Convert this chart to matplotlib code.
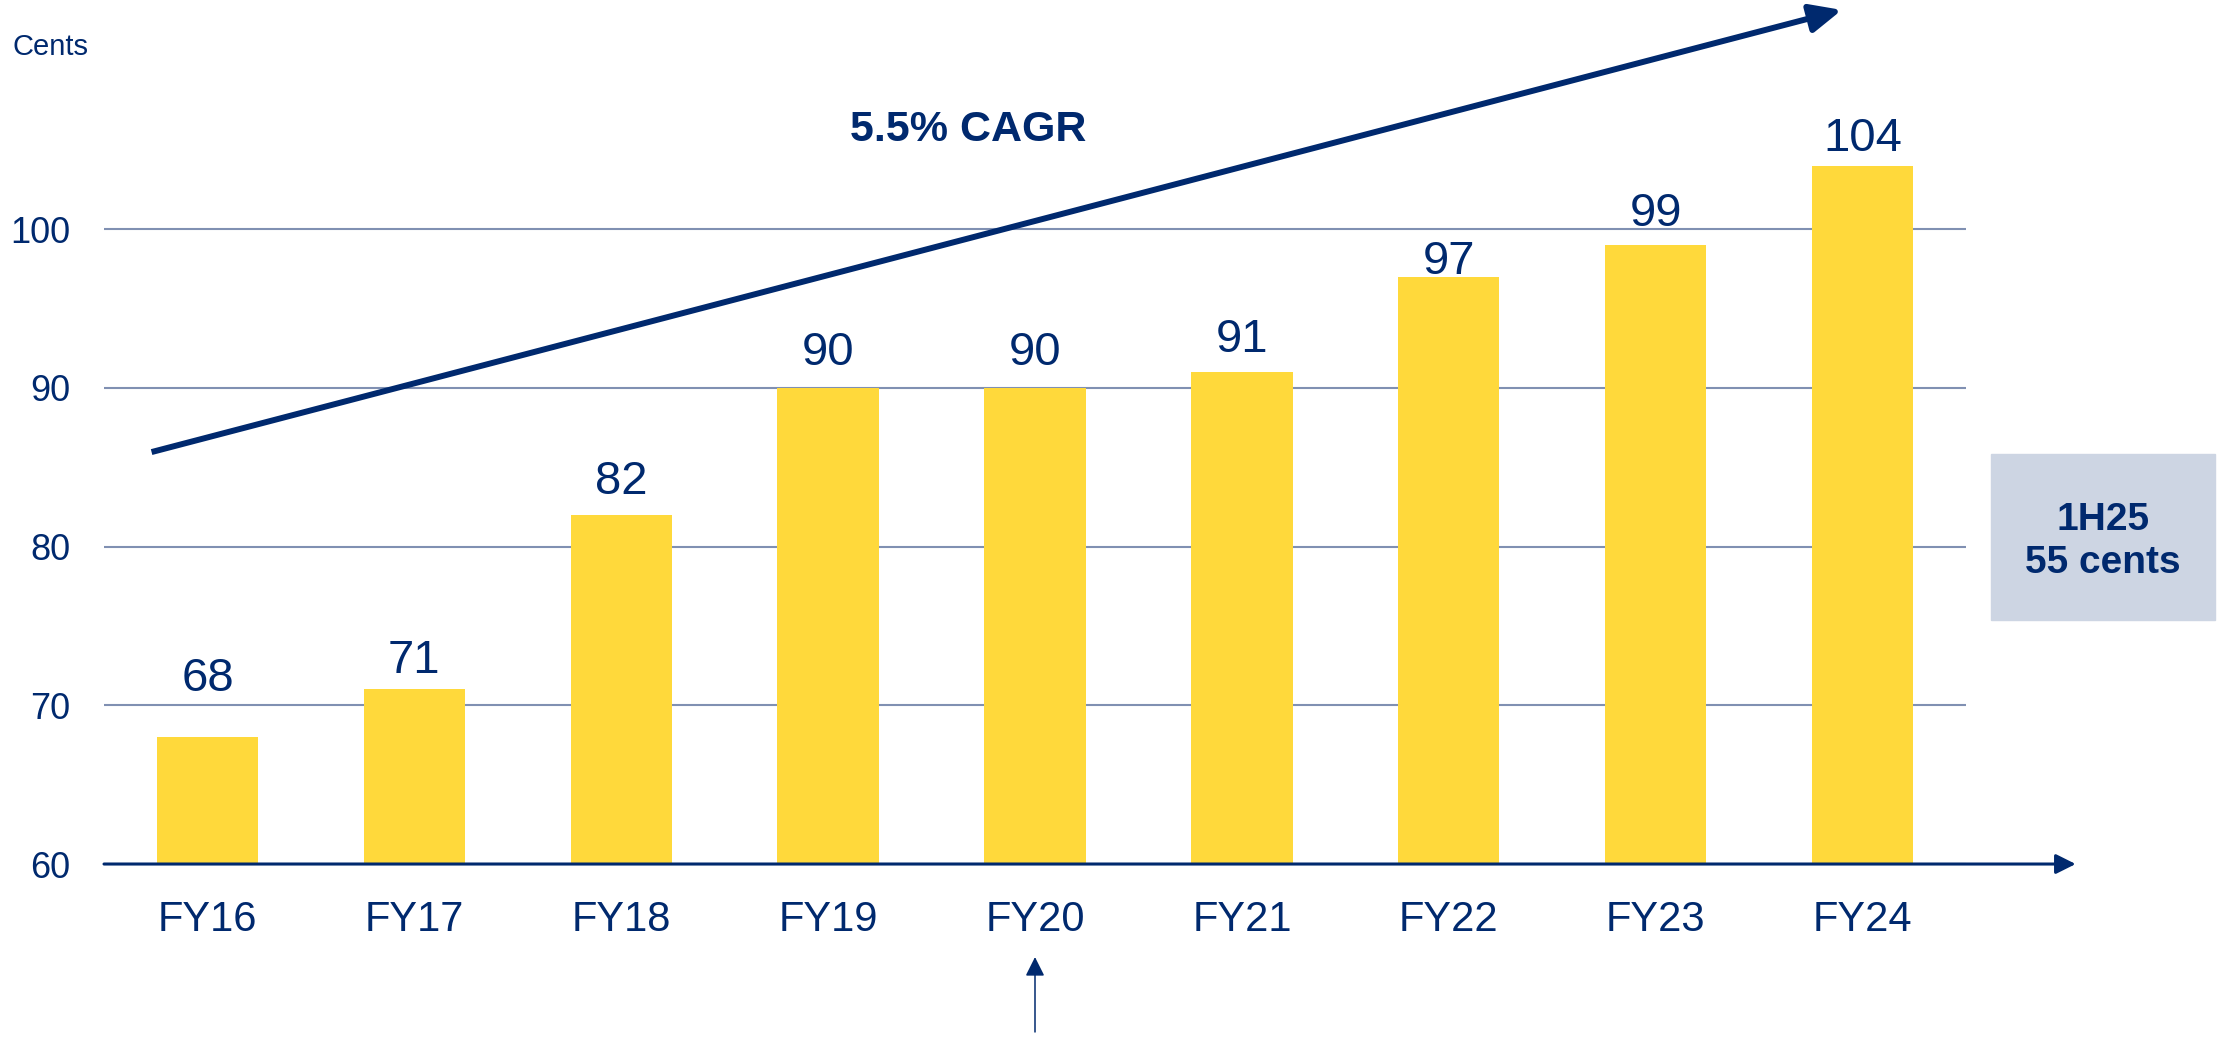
import matplotlib
matplotlib.use('Agg')
from matplotlib import pyplot as plt
from matplotlib.patches import Rectangle

# dividend per share, cents
years = ['FY16', 'FY17', 'FY18', 'FY19', 'FY20', 'FY21', 'FY22', 'FY23', 'FY24']
dps = [68, 71, 82, 90, 90, 91, 97, 99, 104]
y_ticks = [60, 70, 80, 90, 100]
cagr_label = '5.5% CAGR'
interim_label = '1H25\n55 cents'

# label gaps above each bar (pixels), as placed in the original slide
label_gap = [46, 16, 21, 23, 23, 20, 3, 19, 15]

navy = '#00296E'
yellow = '#FFD93B'
grid_col = '#8090B2'
box_col = '#CDD5E3'

plt.rcParams['font.family'] = ['Liberation Sans', 'DejaVu Sans']

fig = plt.figure(figsize=(22.27, 10.37), dpi=100)
ax = fig.add_axes([0.0467, 0.1668, 0.8361, 0.6889])

x = list(range(len(years)))
ax.bar(x, dps, width=0.49, color=yellow, zorder=2)

for xi, v, g in zip(x, dps, label_gap):
    ax.annotate(str(v), (xi, v), xytext=(0, g), textcoords='offset pixels',
                ha='center', va='baseline', fontsize=34, color=navy)

ax.set_xlim(-0.5, 8.5)
ax.set_ylim(60, 105)
ax.set_yticks(y_ticks)
ax.set_xticks(x)
ax.set_xticklabels(years)
ax.tick_params(axis='x', length=0, pad=26, labelsize=30, labelcolor=navy)
ax.tick_params(axis='y', length=0, pad=24, labelsize=26, labelcolor=navy)
ax.yaxis.grid(True, color=grid_col, linewidth=1.5, zorder=0)
ax.set_axisbelow(True)
for s in ax.spines.values():
    s.set_visible(False)

# x axis with arrow
ax.annotate('', xy=(9.03, 60), xytext=(-0.5, 60), annotation_clip=False,
            arrowprops=dict(arrowstyle='-|>,head_length=0.6,head_width=0.3',
                            mutation_scale=20, color=navy, lw=2.2,
                            shrinkA=0, shrinkB=0), zorder=3)

# CAGR trend arrow
ax.annotate('', xy=(7.90, 113.8), xytext=(-0.27, 85.95), annotation_clip=False,
            arrowprops=dict(arrowstyle='-|>,head_length=0.95,head_width=0.43',
                            mutation_scale=20, color=navy, lw=4.3,
                            capstyle='butt', shrinkA=0, shrinkB=0), zorder=4)
fig.text(0.4347, 0.8742, cagr_label, ha='center', va='center',
         fontsize=31, fontweight='bold', color=navy)

# small arrow under FY20
ax.annotate('', xy=(4, 54.14), xytext=(4, 49.42), annotation_clip=False,
            arrowprops=dict(arrowstyle='-|>,head_length=0.58,head_width=0.29',
                            mutation_scale=20, color=navy, lw=1.1,
                            shrinkA=0, shrinkB=0))

fig.text(12 / 2227, 1 - 47 / 1037, 'Cents', ha='left', va='center',
         fontsize=21, color=navy)

# interim box
fig.patches.append(Rectangle((0.8940, 0.4021), 0.1006, 0.1601,
                             transform=fig.transFigure, color=box_col, zorder=0))
fig.text(0.9443, 0.4783, interim_label, ha='center', va='center',
         fontsize=28, fontweight='bold', color=navy, linespacing=1.25)

fig.savefig('out.png', dpi=100)
